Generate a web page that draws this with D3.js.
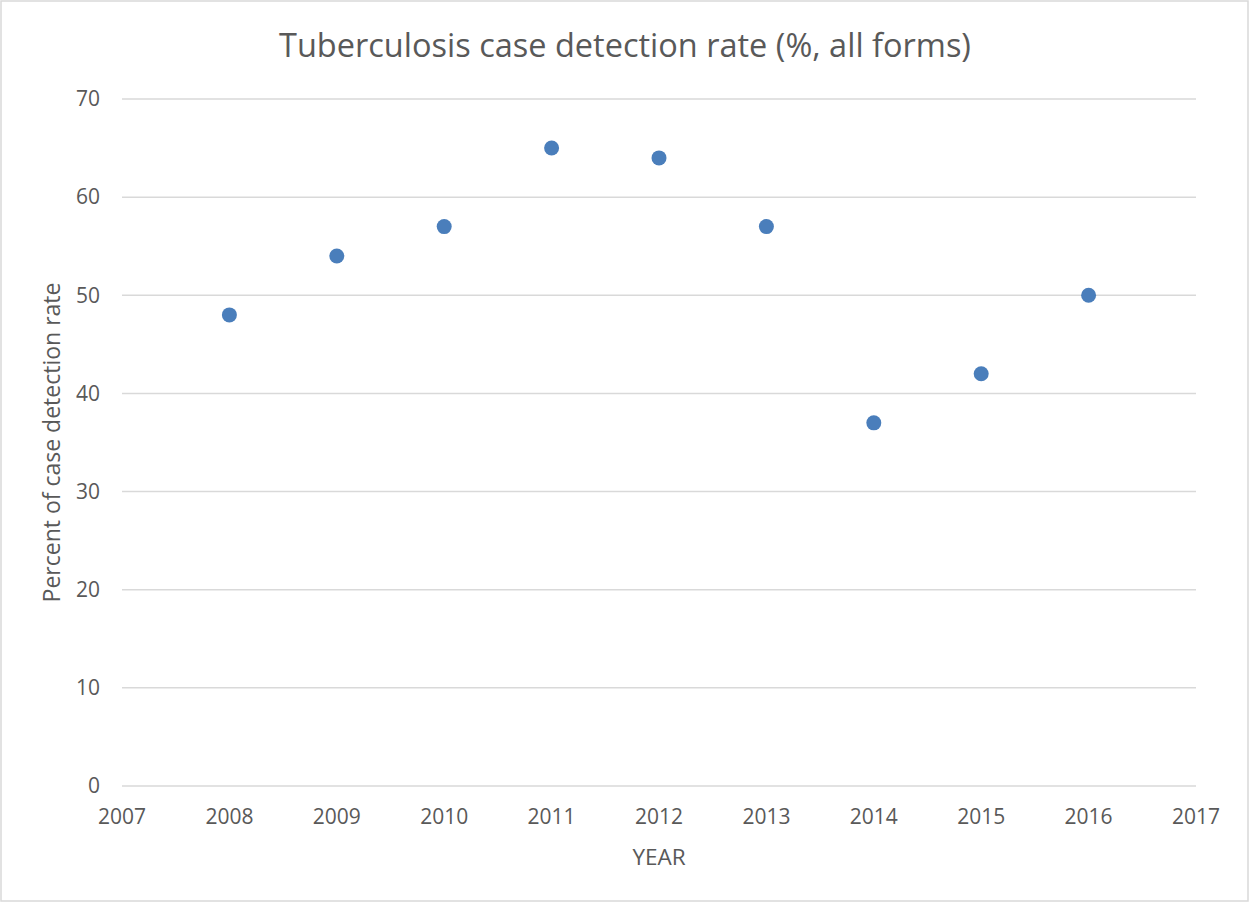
<!DOCTYPE html>
<html>
<head>
<meta charset="utf-8">
<script src="https://cdn.jsdelivr.net/npm/d3@7"></script>
<style>
  body { margin: 0; background: #fff; }
  svg { display: block; font-family: "Open Sans", sans-serif; }
</style>
</head>
<body>
<svg id="chart" width="1250" height="902"></svg>
<script>
const years = [2008, 2009, 2010, 2011, 2012, 2013, 2014, 2015, 2016];
const rates = [48, 54, 57, 65, 64, 57, 37, 42, 50];
const xTicks = [2007, 2008, 2009, 2010, 2011, 2012, 2013, 2014, 2015, 2016, 2017];
const yTicks = [0, 10, 20, 30, 40, 50, 60, 70];

const width = 1250, height = 902;
const margin = { top: 99, right: 54, bottom: 116, left: 122 };
const textColor = "#595959";

const svg = d3.select("#chart");

// chart frame
svg.append("rect")
  .attr("x", 1).attr("y", 1)
  .attr("width", width - 3).attr("height", height - 2)
  .attr("fill", "#fff")
  .attr("stroke", "#d9d9d9")
  .attr("stroke-width", 1.5);

const x = d3.scaleLinear()
  .domain([2007, 2017])
  .range([margin.left, width - margin.right]);

const y = d3.scaleLinear()
  .domain([0, 70])
  .range([height - margin.bottom, margin.top]);

// horizontal grid
svg.append("g")
  .selectAll("line")
  .data(yTicks)
  .join("line")
  .attr("x1", x(2007)).attr("x2", x(2017))
  .attr("y1", d => y(d)).attr("y2", d => y(d))
  .attr("stroke", "#d9d9d9")
  .attr("stroke-width", 1.5);

// y tick labels
svg.append("g")
  .selectAll("text")
  .data(yTicks)
  .join("text")
  .attr("x", margin.left - 22)
  .attr("y", d => y(d))
  .attr("dy", "0.35em")
  .attr("text-anchor", "end")
  .attr("fill", textColor)
  .attr("font-size", 21)
  .text(d => d);

// x tick labels
svg.append("g")
  .selectAll("text")
  .data(xTicks)
  .join("text")
  .attr("x", d => x(d))
  .attr("y", y(0) + 31)
  .attr("dy", "0.35em")
  .attr("text-anchor", "middle")
  .attr("fill", textColor)
  .attr("font-size", 21)
  .text(d => d);

// points
svg.append("g")
  .selectAll("circle")
  .data(years.map((yr, i) => [yr, rates[i]]))
  .join("circle")
  .attr("cx", d => x(d[0]))
  .attr("cy", d => y(d[1]))
  .attr("r", 7.5)
  .attr("fill", "#4a7ebb");

// title
svg.append("text")
  .attr("x", width / 2)
  .attr("y", 46)
  .attr("dy", "0.35em")
  .attr("text-anchor", "middle")
  .attr("fill", textColor)
  .attr("font-size", 32.5)
  .text("Tuberculosis case detection rate (%, all forms)");

// axis titles
svg.append("text")
  .attr("x", (x(2007) + x(2017)) / 2)
  .attr("y", 857)
  .attr("dy", "0.35em")
  .attr("text-anchor", "middle")
  .attr("fill", textColor)
  .attr("font-size", 22.5)
  .text("YEAR");

svg.append("text")
  .attr("transform", `translate(52, ${(y(0) + y(70)) / 2}) rotate(-90)`)
  .attr("dy", "0.35em")
  .attr("text-anchor", "middle")
  .attr("fill", textColor)
  .attr("font-size", 23)
  .text("Percent of case detection rate");
</script>
</body>
</html>
